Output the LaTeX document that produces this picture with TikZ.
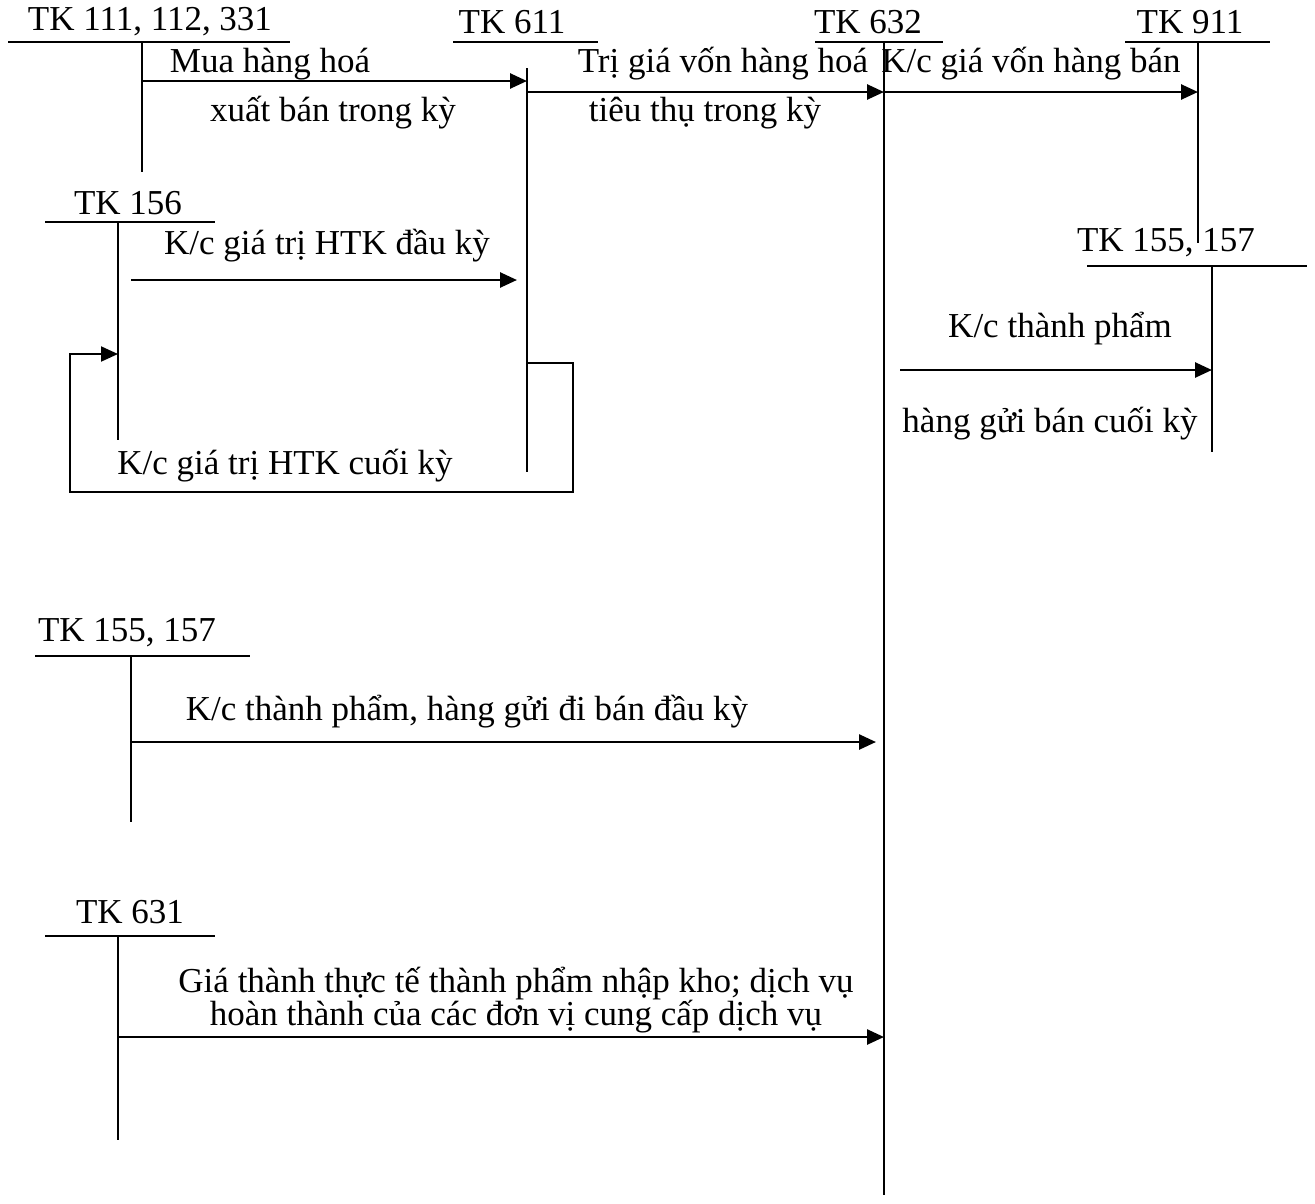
\documentclass[tikz,border=0pt]{standalone}
\usepackage{fontspec}
\setmainfont{Liberation Serif}
\usetikzlibrary{arrows.meta}
\begin{document}
\begin{tikzpicture}[x=1pt,y=-1pt,
  acc/.style={line width=2pt},
  tip/.style={-{Triangle[length=17pt,width=15pt]}},
  flow/.style={line width=2.6pt,tip},
  lbl/.style={inner sep=0pt,font=\fontsize{35}{40}\selectfont},
  lbl2/.style={inner sep=0pt,align=center,font=\fontsize{35}{31}\selectfont}]
\useasboundingbox (0,0) rectangle (1315,1203);
% TK 111,112,331
\node[lbl] (t111) at (150,22) {TK 111, 112, 331};
\draw[acc] (8,42) -- (290,42);
\coordinate (a111t) at (142,42);
\coordinate (a111b) at (142,172);
\draw[acc] (a111t) -- (a111b);
% TK 611
\node[lbl] (t611) at (512,22) {TK 611};
\draw[acc] (453,42) -- (598,42);
\coordinate (a611t) at (527,68);
\coordinate (a611b) at (527,472);
\draw[acc] (a611t) -- (a611b);
% TK 632
\node[lbl] (t632) at (868,22) {TK 632};
\draw[acc] (815,42) -- (943,42);
\coordinate (a632t) at (884,42);
\coordinate (a632b) at (884,1195);
\draw[acc] (a632t) -- (a632b);
% TK 911
\node[lbl] (t911) at (1190,22) {TK 911};
\draw[acc] (1125,42) -- (1270,42);
\coordinate (a911t) at (1198,42);
\coordinate (a911b) at (1198,243);
\draw[acc] (a911t) -- (a911b);
% flows top
\draw[flow] (142,81) -- (a611t |- 0,81);
\node[lbl] (m1) at (270,64) {Mua hàng hoá};
\node[lbl] (m2) at (333,113) {xuất bán trong kỳ};
\draw[flow] (527,92) -- (a632t |- 0,92);
\node[lbl] (m3) at (723,64) {Trị giá vốn hàng hoá};
\node[lbl] (m4) at (705,113) {tiêu thụ trong kỳ};
\draw[flow] (884,92) -- (a911t |- 0,92);
\node[lbl] (m5) at (1031,64) {K/c giá vốn hàng bán};
% TK 156
\node[lbl] (t156) at (128,203) {TK 156};
\draw[acc] (45,222) -- (215,222);
\coordinate (a156t) at (118,222);
\coordinate (a156b) at (118,440);
\draw[acc] (a156t) -- (a156b);
\coordinate (f1s) at (131,280);
\coordinate (f1e) at (517,280);
\draw[flow] (f1s) -- (f1e);
\node[lbl] (m6) at (327,246) {K/c giá trị HTK đầu kỳ};
\coordinate (l1) at (527,363);
\coordinate (l2) at (573,363);
\coordinate (l3) at (573,492);
\coordinate (l4) at (70,492);
\coordinate (l5) at (70,354);
\draw[acc,tip] (l1) -- (l2) -- (l3) -- (l4) -- (l5) -- (l5 -| a156t);
\node[lbl] (m7) at (285,466) {K/c giá trị HTK cuối kỳ};
% TK 155,157 right
\node[lbl] (t155r) at (1166,243) {TK 155, 157};
\draw[acc] (1087,266) -- (1307,266);
\coordinate (a155rt) at (1212,266);
\coordinate (a155rb) at (1212,452);
\draw[acc] (a155rt) -- (a155rb);
\coordinate (f2s) at (900,370);
\draw[flow] (f2s) -- (f2s -| a155rt);
\node[lbl] (m8) at (1060,329) {K/c thành phẩm};
\node[lbl] (m9) at (1050,424) {hàng gửi bán cuối kỳ};
% TK 155,157 left
\node[lbl] (t155l) at (127,633) {TK 155, 157};
\draw[acc] (35,656) -- (250,656);
\coordinate (a155lt) at (131,656);
\coordinate (a155lb) at (131,822);
\draw[acc] (a155lt) -- (a155lb);
\coordinate (f3s) at (131,742);
\coordinate (f3e) at (876,742);
\draw[flow] (f3s) -- (f3e);
\node[lbl] (m10) at (467,712) {K/c thành phẩm, hàng gửi đi bán đầu kỳ};
% TK 631
\node[lbl] (t631) at (130,912) {TK 631};
\draw[acc] (45,936) -- (215,936);
\coordinate (a631t) at (118,936);
\coordinate (a631b) at (118,1140);
\draw[acc] (a631t) -- (a631b);
\coordinate (f4s) at (118,1037);
\draw[flow] (f4s) -- (f4s -| a632t);
\node[lbl2] (m11) at (516,1000) {Giá thành thực tế thành phẩm nhập kho; dịch vụ\\ hoàn thành của các đơn vị cung cấp dịch vụ};
\end{tikzpicture}
\end{document}
